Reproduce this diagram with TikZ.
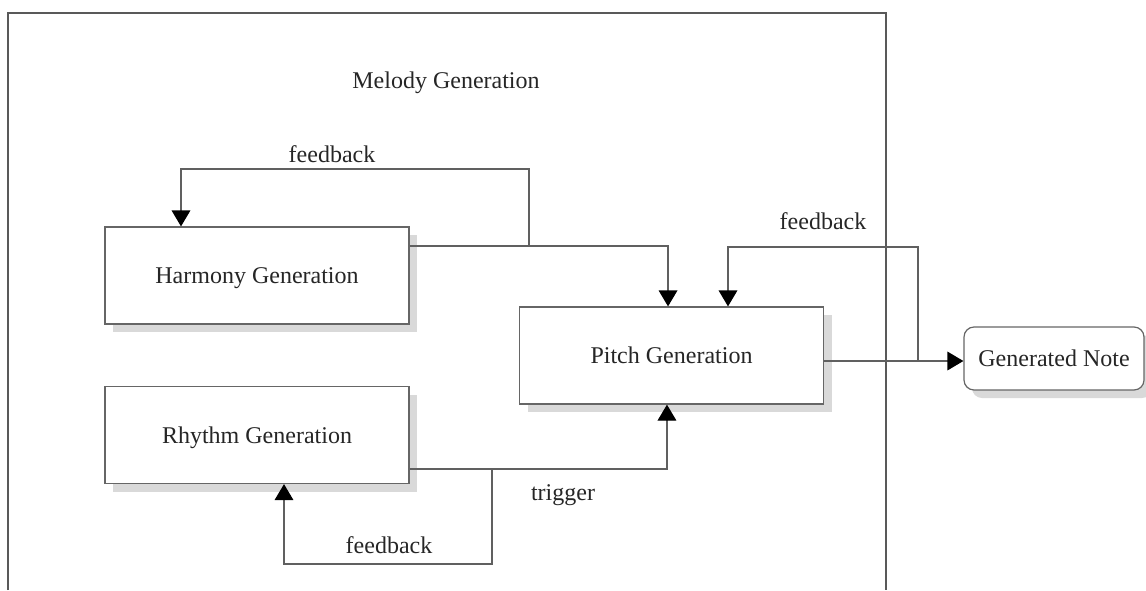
\documentclass[tikz,border=0pt]{standalone}
\usepackage{fontspec}
\setmainfont{Liberation Serif}
\usepackage{tikz}
\usetikzlibrary{arrows.meta,shadows,calc}

\begin{document}
\begin{tikzpicture}[x=0.75pt,y=0.75pt,yscale=-1,xscale=1,
    genbox/.style={draw=gray!80!black, line width=0.9pt, fill=white, inner sep=0pt,
        minimum width=228pt, minimum height=72.75pt, font=\fontsize{18}{21}\selectfont, text=black!85,
        text depth=0pt, drop shadow={shadow xshift=6pt, shadow yshift=-6pt, fill=black!15, opacity=1}},
    notebox/.style={genbox, rounded corners=7.5pt, minimum width=135pt, minimum height=47.25pt},
    flow/.style={draw=gray!75!black, line width=0.9pt},
    tipflow/.style={flow, -{Triangle[width=14pt,length=12pt,black]}},
    lbl/.style={font=\fontsize{18}{21}\selectfont, text=black!85, inner sep=0.75pt}]
        \useasboundingbox (0,0) rectangle (1146,590);
        %Shape: Frame of melody generation
        \draw [draw=gray!70!black, line width=0.9pt]  (8,590) -- (8,13) -- (886,13) -- (886,590) ;
        \draw (446,83) node [lbl] (melody) {Melody Generation};
        %Shape: Rectangles
        \node [genbox] (harm) at (257,275.5) {Harmony Generation};
        \node [genbox] (rhythm) at (257,435) {Rhythm Generation};
        \node [genbox] (pitch) at (671.5,355.5) {Pitch Generation};
        \node [notebox] (note) at (1054,358.5) {Generated Note};
        % Junctions
        \coordinate (jHarm) at (529,246);
        \coordinate (jRhy) at (492,469);
        \coordinate (jPitch) at (918,361);
        %Straight Lines: harmony to pitch
        \draw [tipflow]  (harm.east |- jHarm) -| ([xshift=-2.6pt]pitch.north) ;
        %Straight Lines: harmony feedback
        \draw [tipflow]  (jHarm) |- (181,169) -- (181,169 |- harm.north) ;
        \draw (332,154) node [lbl] (fbHarm) {feedback};
        %Straight Lines: pitch to note
        \draw [tipflow]  (pitch.east |- jPitch) -- (note.west |- jPitch) ;
        %Straight Lines: pitch feedback
        \draw [tipflow]  (jPitch) |- (728,247) -- (728,247 |- pitch.north) ;
        \draw (823,221) node [lbl] (fbPitch) {feedback};
        %Straight Lines: rhythm to pitch
        \draw [tipflow]  (rhythm.east |- jRhy) -| ([xshift=-3.4pt]pitch.south) ;
        \draw (563,495) node [lbl] (trigger) {trigger};
        %Straight Lines: rhythm feedback
        \draw [tipflow]  (jRhy) |- (284,564) -- (284,564 |- rhythm.south) ;
        \draw (389,545) node [lbl] (fbRhythm) {feedback};
\end{tikzpicture}
\end{document}
